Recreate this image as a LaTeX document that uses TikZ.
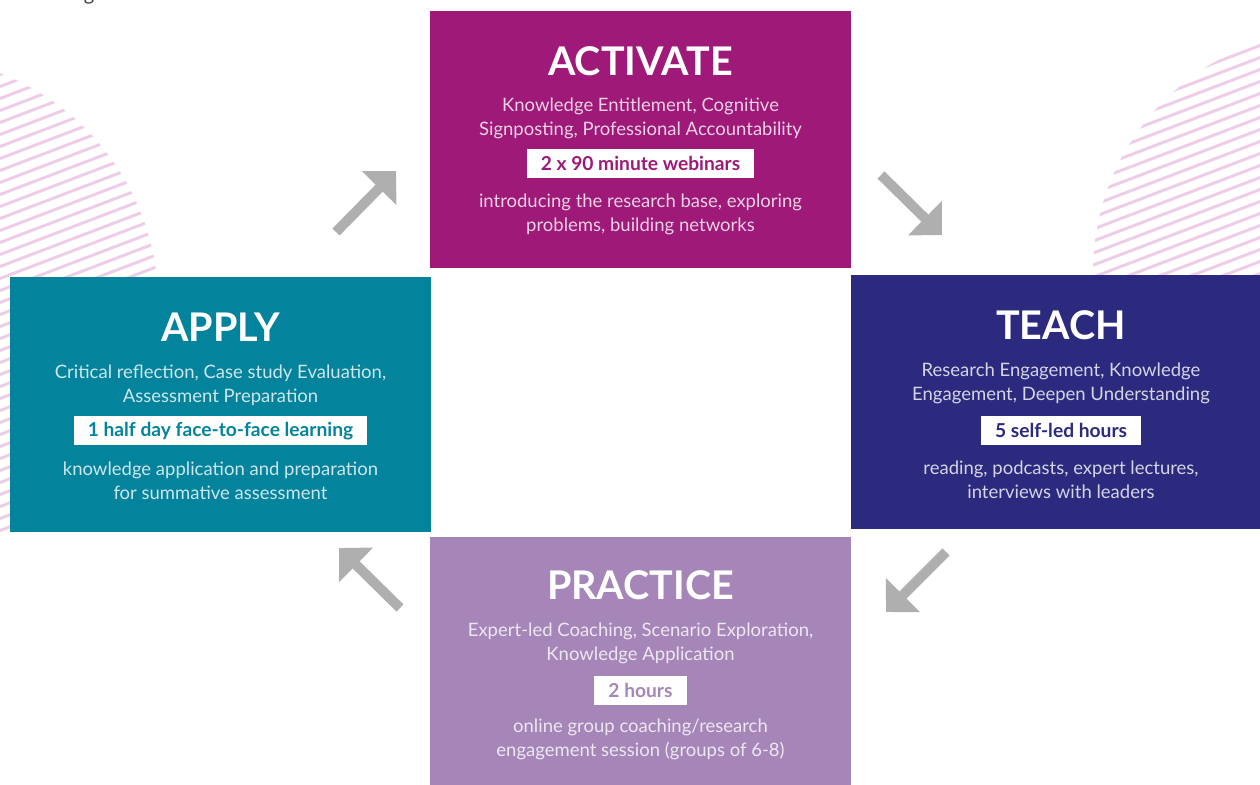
\documentclass[tikz,border=0pt]{standalone}
\usepackage{fontspec}
\setmainfont{Lato}
\usetikzlibrary{positioning,arrows.meta}
\definecolor{activatecol}{RGB}{158,25,120}
\definecolor{teachcol}{RGB}{43,42,126}
\definecolor{applycol}{RGB}{3,132,156}
\definecolor{practicecol}{RGB}{166,134,184}
\definecolor{arrowgrey}{RGB}{175,175,175}
\definecolor{hatchpink}{RGB}{238,205,232}
\begin{document}
\begin{tikzpicture}[x=1pt, y=-1pt,
                   phase/.style={rectangle, inner sep=0pt, minimum width=421pt},
                   title/.style={text=white, font=\fontsize{39.5}{44}\selectfont\bfseries},
                   keywords/.style={text=white, text opacity=0.8, align=center,
                                    font=\fontsize{18.5}{24}\selectfont},
                   badge/.style={fill=white, minimum height=29pt, inner xsep=14pt, inner ysep=0pt,
                                 font=\fontsize{19.2}{24}\selectfont\bfseries},
                   hatch/.style={draw=hatchpink, line width=3pt},
                   cycle/.style={draw=arrowgrey, line width=10pt, -{Triangle[width=47pt, length=24pt]}}]
  \useasboundingbox (0,0) rectangle (1260,784);
  \node[anchor=base, text=black!75, font=\fontsize{20}{24}\selectfont] (cutword) at (89,1) {g};

  % hatched discs behind the boxes
  \begin{scope}
    \clip (-88,303) circle[radius=246pt];
    \foreach \k in {0,...,45}
      \draw[hatch] (-348,135+12*\k) -- ++(520,-198);
  \end{scope}
  \begin{scope}
    \clip (1335,272) circle[radius=242pt];
    \foreach \k in {0,...,45}
      \draw[hatch] (1075,104+12*\k) -- ++(520,-198);
  \end{scope}

  % the four phases
  \node[phase, fill=activatecol, minimum height=257pt] (activate) at (640.5,139.5) {};
  \node[phase, fill=teachcol, minimum width=420pt, minimum height=254pt] (teach) at (1061,402) {};
  \node[phase, fill=practicecol, minimum height=260pt] (practice) at (640.5,667) {};
  \node[phase, fill=applycol, minimum height=255pt] (apply) at (220.5,404.5) {};

  \node[title] (activatetitle) at ([yshift=-50pt]activate.north) {ACTIVATE};
  \node[keywords] (activatekeys) at ([yshift=-108pt]activate.north)
    {Knowledge Entitlement, Cognitive\\Signposting, Professional Accountability};
  \node[badge, text=activatecol] (activatebadge) at ([yshift=-153pt]activate.north) {2 x 90 minute webinars};
  \node[keywords] (activatedesc) at ([yshift=-204pt]activate.north)
    {introducing the research base, exploring\\problems, building networks};

  \node[title] (teachtitle) at ([yshift=-50pt]teach.north) {TEACH};
  \node[keywords] (teachkeys) at ([yshift=-109pt]teach.north)
    {Research Engagement, Knowledge\\Engagement, Deepen Understanding};
  \node[badge, text=teachcol] (teachbadge) at ([yshift=-156pt]teach.north) {5 self-led hours};
  \node[keywords] (teachdesc) at ([yshift=-205pt]teach.north)
    {reading, podcasts, expert lectures,\\interviews with leaders};

  \node[title] (practicetitle) at ([yshift=-48pt]practice.north) {PRACTICE};
  \node[keywords] (practicekeys) at ([yshift=-107pt]practice.north)
    {Expert-led Coaching, Scenario Exploration,\\Knowledge Application};
  \node[badge, text=practicecol] (practicebadge) at ([yshift=-154pt]practice.north) {2 hours};
  \node[keywords] (practicedesc) at ([yshift=-203pt]practice.north)
    {online group coaching/research\\engagement session (groups of 6-8)};

  \node[title] (applytitle) at ([yshift=-50pt]apply.north) {APPLY};
  \node[keywords] (applykeys) at ([yshift=-108pt]apply.north)
    {Critical reflection, Case study Evaluation,\\Assessment Preparation};
  \node[badge, text=applycol] (applybadge) at ([yshift=-154pt]apply.north) {1 half day face-to-face learning};
  \node[keywords] (applydesc) at ([yshift=-204pt]apply.north)
    {knowledge application and preparation\\for summative assessment};

  % arrows between the phases
  \coordinate (applyout) at (336,232);
  \coordinate (activatein) at (396,171);
  \coordinate (activateout) at (881,175);
  \coordinate (teachin) at (942,235);
  \coordinate (teachout) at (946,552);
  \coordinate (practicein) at (886,612);
  \coordinate (practiceout) at (400,608);
  \coordinate (applyin) at (339,548);
  \draw[cycle] (applyout) -- (activatein);
  \draw[cycle] (activateout) -- (teachin);
  \draw[cycle] (teachout) -- (practicein);
  \draw[cycle] (practiceout) -- (applyin);
\end{tikzpicture}
\end{document}
